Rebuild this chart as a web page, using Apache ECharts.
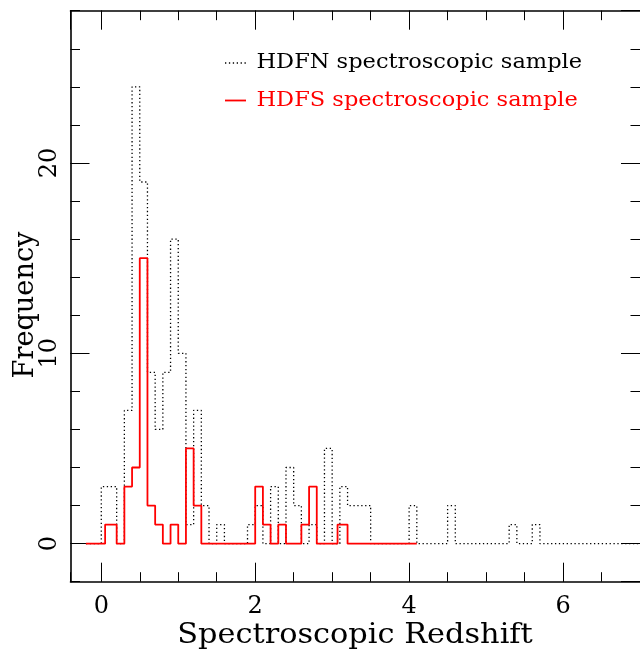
<!DOCTYPE html>
<html>
<head>
<meta charset="utf-8">
<script src="https://cdn.jsdelivr.net/npm/echarts@6/dist/echarts.min.js"></script>
<style>
html,body{margin:0;padding:0;background:#fff;}
#chart{width:640px;height:654px;}
</style>
</head>
<body>
<div id="chart"></div>
<script>
// ---- Data ----
// HDFN spectroscopic sample: counts in 0.1-wide redshift bins starting at z = 0.0
const hdfnBinStart = 0.0;
const hdfnBinWidth = 0.1;
const hdfnCounts = [
  3, 3, 0, 7, 24, 19, 9, 6, 9, 16,   // 0.0 - 0.9
  10, 1, 7, 2, 0, 1, 0, 0, 0, 1,     // 1.0 - 1.9
  2, 0, 3, 0, 4, 2, 0, 1, 0, 5,      // 2.0 - 2.9
  0, 3, 2, 2, 2, 0, 0, 0, 0, 0,      // 3.0 - 3.9
  2, 0, 0, 0, 0, 2, 0, 0, 0, 0,      // 4.0 - 4.9
  0, 0, 0, 1, 0, 0, 1, 0, 0, 0,      // 5.0 - 5.9
  0, 0, 0, 0, 0, 0, 0, 0, 0, 0       // 6.0 - 6.9
];
const hdfnStartZ = -0.2;
const hdfnEndZ = 7.0;

// HDFS spectroscopic sample: step edges and the count on each step
const hdfsEdges = [-0.2, 0.05, 0.2, 0.3, 0.4, 0.5, 0.6, 0.7, 0.8, 0.9, 1.0, 1.1, 1.2, 1.3,
                   2.0, 2.1, 2.2, 2.3, 2.4, 2.6, 2.7, 2.8, 3.07, 3.2, 4.1];
const hdfsCounts = [0, 1, 0, 3, 4, 15, 2, 1, 0, 1, 0, 5, 2,
                    0, 3, 1, 0, 1, 0, 1, 3, 0, 1, 0];

// axes
const xRange = [-0.4, 7.0];
const yRange = [-2, 28];
const xMajor = 2, xMinor = 0.5;
const yMajor = 10, yMinor = 2;

const seriesNames = ['HDFN spectroscopic sample', 'HDFS spectroscopic sample'];
const xTitle = 'Spectroscopic Redshift';
const yTitle = 'Frequency';

// ---- build step outlines ----
function hdfnSteps() {
  const pts = [[hdfnStartZ, 0], [hdfnBinStart, 0]];
  for (let i = 0; i < hdfnCounts.length; i++) {
    const l = +(hdfnBinStart + i * hdfnBinWidth).toFixed(3);
    const r = +(hdfnBinStart + (i + 1) * hdfnBinWidth).toFixed(3);
    pts.push([l, hdfnCounts[i]], [r, hdfnCounts[i]]);
  }
  pts.push([hdfnEndZ, 0]);
  return pts;
}
function hdfsSteps() {
  const pts = [];
  for (let i = 0; i < hdfsCounts.length; i++) {
    pts.push([hdfsEdges[i], hdfsCounts[i]], [hdfsEdges[i + 1], hdfsCounts[i]]);
  }
  return pts;
}

const FONT = 'DejaVu Serif';
const chart = echarts.init(document.getElementById('chart'), null, {renderer: 'canvas'});

function xAx(pos, major, labels, line) {
  return {
    type: 'value', position: pos, min: xRange[0], max: xRange[1],
    minInterval: major ? xMajor : xMinor, maxInterval: major ? xMajor : xMinor,
    axisLine: {show: line, onZero: false, lineStyle: {color: '#000', width: 1.6}},
    axisTick: {show: true, inside: true, length: major ? 19 : 9.5, lineStyle: {color: '#000', width: 1}},
    axisLabel: {show: labels, showMinLabel: false, showMaxLabel: false, margin: 13,
      color: '#000', fontFamily: FONT, fontSize: 24},
    splitLine: {show: false}
  };
}
function yAx(pos, major, labels, line) {
  return {
    type: 'value', position: pos, min: yRange[0], max: yRange[1],
    minInterval: major ? yMajor : yMinor, maxInterval: major ? yMajor : yMinor,
    axisLine: {show: line, onZero: false, lineStyle: {color: '#000', width: 1.6}},
    axisTick: {show: true, inside: true, length: major ? 19 : 9.5, lineStyle: {color: '#000', width: 1}},
    axisLabel: {show: labels, rotate: 90, showMinLabel: false, showMaxLabel: false, margin: 9,
      color: '#000', fontFamily: FONT, fontSize: 24},
    splitLine: {show: false}
  };
}

const option = {
  animation: false,
  backgroundColor: '#fff',
  grid: {left: 70.5, top: 10.7, width: 573, height: 571, containLabel: false},
  xAxis: [xAx('bottom', true, true, true), xAx('bottom', false, false, false),
          xAx('top', true, false, true), xAx('top', false, false, false)],
  yAxis: [yAx('left', true, true, true), yAx('left', false, false, false),
          yAx('right', true, false, false), yAx('right', false, false, false)],
  series: [
    {name: seriesNames[0], type: 'line', xAxisIndex: 0, yAxisIndex: 0, data: hdfnSteps(),
     showSymbol: false, symbol: 'none', clip: true,
     lineStyle: {color: '#000', width: 1.3, type: [1.3, 2.6]}},
    {name: seriesNames[1], type: 'line', xAxisIndex: 0, yAxisIndex: 0, data: hdfsSteps(),
     showSymbol: false, symbol: 'none', clip: true,
     lineStyle: {color: '#ff0000', width: 1.8}}
  ],
  graphic: [
    {type: 'line', shape: {x1: 225, y1: 63, x2: 246, y2: 63},
     style: {stroke: '#000', lineWidth: 1.3, lineDash: [1.3, 2.6]}},
    {type: 'text', x: 256.5, y: 62.5, scaleX: 1.125,
     style: {text: seriesNames[0], fill: '#000', fontFamily: FONT, fontSize: 20, align: 'left', verticalAlign: 'middle'}},
    {type: 'line', shape: {x1: 225, y1: 100.5, x2: 246, y2: 100.5},
     style: {stroke: '#ff0000', lineWidth: 1.8}},
    {type: 'text', x: 256.5, y: 100.5, scaleX: 1.125,
     style: {text: seriesNames[1], fill: '#ff0000', fontFamily: FONT, fontSize: 20, align: 'left', verticalAlign: 'middle'}},
    {type: 'text', x: 355, y: 636, scaleX: 1.085,
     style: {text: xTitle, fill: '#000', fontFamily: FONT, fontSize: 28, align: 'center', verticalAlign: 'middle'}},
    {type: 'text', x: 26, y: 305, rotation: Math.PI / 2, scaleX: 0.97,
     style: {text: yTitle, fill: '#000', fontFamily: FONT, fontSize: 28, align: 'center', verticalAlign: 'middle'}}
  ]
};
chart.setOption(option);
</script>
</body>
</html>
